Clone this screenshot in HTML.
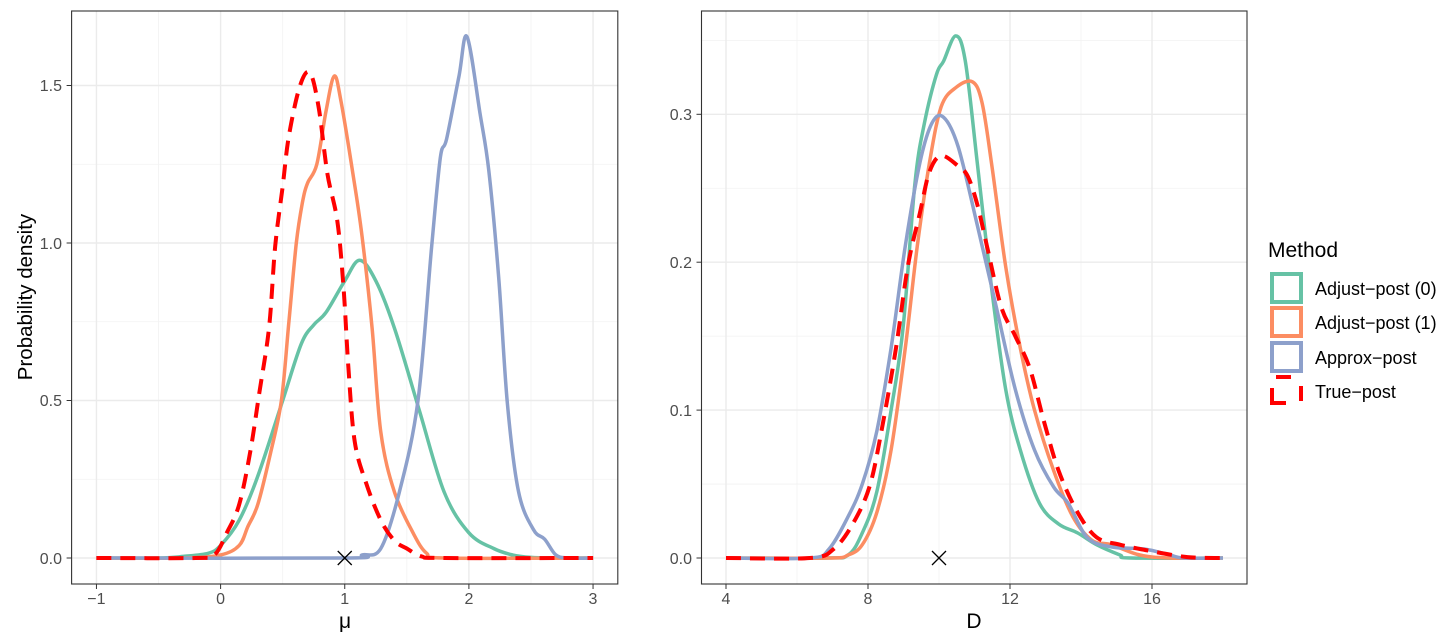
<!DOCTYPE html>
<html><head><meta charset="utf-8"><style>
html,body{margin:0;padding:0;background:#fff;}
svg{display:block;font-family:"Liberation Sans",Arial,sans-serif;}
</style></head><body>
<svg id="s" width="1440" height="642" viewBox="0 0 1440 642" xmlns="http://www.w3.org/2000/svg">
<rect width="1440" height="642" fill="#fff"/>
<g id="g"></g>
<g font-size="16" fill="#4d4d4d" text-anchor="end">
<text x="62" y="564">0.0</text><text x="62" y="406">0.5</text><text x="62" y="249">1.0</text><text x="62" y="91">1.5</text>
</g>
<g font-size="16" fill="#4d4d4d" text-anchor="middle">
<text x="96.4" y="604">−1</text><text x="220.6" y="604">0</text><text x="344.7" y="604">1</text><text x="468.9" y="604">2</text><text x="593" y="604">3</text>
</g>
<g font-size="16" fill="#4d4d4d" text-anchor="end">
<text x="692" y="564">0.0</text><text x="692" y="416">0.1</text><text x="692" y="268">0.2</text><text x="692" y="120">0.3</text>
</g>
<g font-size="16" fill="#4d4d4d" text-anchor="middle">
<text x="726" y="604">4</text><text x="868" y="604">8</text><text x="1010" y="604">12</text><text x="1152" y="604">16</text>
</g>
<text x="345" y="628" font-size="21" text-anchor="middle">μ</text>
<text x="974" y="628" font-size="21" text-anchor="middle">D</text>
<text transform="translate(32,297) rotate(-90)" font-size="20.5" text-anchor="middle">Probability density</text>
<text x="1268" y="257" font-size="21">Method</text>
<rect x="1272" y="274" width="29" height="28" fill="none" stroke="#66c2a5" stroke-width="4"/>
<rect x="1272" y="308" width="29" height="28" fill="none" stroke="#fc8d62" stroke-width="4"/>
<rect x="1272" y="343" width="29" height="28" fill="none" stroke="#8da0cb" stroke-width="4"/>
<g stroke="#ff0000" stroke-width="4" fill="none">
<line x1="1276" y1="377" x2="1291" y2="377"/>
<line x1="1272" y1="388" x2="1272" y2="405"/>
<line x1="1270" y1="403" x2="1286" y2="403"/>
<line x1="1301" y1="386" x2="1301" y2="401"/>
</g>
<g font-size="18" fill="#000">
<text x="1315" y="295">Adjust−post (0)</text>
<text x="1315" y="329">Adjust−post (1)</text>
<text x="1315" y="364">Approx−post</text>
<text x="1315" y="398">True−post</text>
</g>
</svg>
<script>
const g=document.getElementById('g');
function el(t,a){const e=document.createElementNS('http://www.w3.org/2000/svg',t);for(const k in a)e.setAttribute(k,a[k]);g.appendChild(e);return e;}
function path(pts){let d='M'+pts[0][0].toFixed(1)+','+pts[0][1].toFixed(1);
for(let i=0;i<pts.length-1;i++){const p0=pts[Math.max(0,i-1)],p1=pts[i],p2=pts[i+1],p3=pts[Math.min(pts.length-1,i+2)];
const c1=[p1[0]+(p2[0]-p0[0])/6,p1[1]+(p2[1]-p0[1])/6],c2=[p2[0]-(p3[0]-p1[0])/6,p2[1]-(p3[1]-p1[1])/6];
d+='C'+c1.map(v=>v.toFixed(1)).join(',')+' '+c2.map(v=>v.toFixed(1)).join(',')+' '+p2[0].toFixed(1)+','+p2[1].toFixed(1);}return d;}
function panel(x0,x1,y0,y1,fx,fy,vmaj,vmin,hmaj,hmin,series,mark){
 el('rect',{x:x0,y:y0,width:x1-x0,height:y1-y0,fill:'#fff'});
 vmin.forEach(v=>el('line',{x1:fx(v),x2:fx(v),y1:y0,y2:y1,stroke:'#f2f2f2','stroke-width':0.8}));
 hmin.forEach(v=>el('line',{y1:fy(v),y2:fy(v),x1:x0,x2:x1,stroke:'#f2f2f2','stroke-width':0.8}));
 vmaj.forEach(v=>{el('line',{x1:fx(v),x2:fx(v),y1:y0,y2:y1,stroke:'#ebebeb','stroke-width':1.4});el('line',{x1:fx(v),x2:fx(v),y1:y1,y2:y1+5,stroke:'#333','stroke-width':1});});
 hmaj.forEach(v=>{el('line',{y1:fy(v),y2:fy(v),x1:x0,x2:x1,stroke:'#ebebeb','stroke-width':1.4});el('line',{y1:fy(v),y2:fy(v),x1:x0-5,x2:x0,stroke:'#333','stroke-width':1});});
 series.forEach(s=>{const pts=s.d.map(p=>[fx(p[0]),fy(p[1])]);const a={d:path(pts),fill:'none',stroke:s.c,'stroke-width':s.w,'stroke-linejoin':'round'};if(s.dash)a['stroke-dasharray']=s.dash;el('path',a);});
 const mx=fx(mark),my=fy(0);
 el('path',{d:`M${mx-7},${my-7}L${mx+7},${my+7}M${mx-7},${my+7}L${mx+7},${my-7}`,stroke:'#000','stroke-width':1.3});
 el('rect',{x:x0,y:y0,width:x1-x0,height:y1-y0,fill:'none',stroke:'#333','stroke-width':1.1});
}
const L={fx:x=>220.6+x*124.15,fy:y=>558-y*315};
const green1=[[-1,0],[-0.5,0],[-0.3,0.005],[-0.1,0.015],[0,0.04],[0.15,0.12],[0.3,0.26],[0.5,0.5],[0.65,0.68],[0.75,0.74],[0.85,0.78],[1.0,0.88],[1.12,0.945],[1.25,0.88],[1.4,0.73],[1.6,0.47],[1.8,0.21],[2.0,0.08],[2.2,0.03],[2.35,0.01],[2.5,0.002],[2.7,0],[3,0]];
const orange1=[[-1,0],[-0.3,0],[0,0.01],[0.15,0.04],[0.22,0.1],[0.3,0.17],[0.4,0.33],[0.49,0.5],[0.55,0.75],[0.61,1.0],[0.66,1.13],[0.7,1.19],[0.775,1.25],[0.85,1.42],[0.915,1.53],[0.97,1.45],[1.07,1.21],[1.14,1.02],[1.22,0.73],[1.29,0.40],[1.4,0.21],[1.55,0.08],[1.66,0.015],[1.8,0],[3,0]];
const blue1=[[-1,0],[1.0,0],[1.14,0.01],[1.29,0.03],[1.44,0.21],[1.59,0.5],[1.70,0.99],[1.77,1.27],[1.82,1.33],[1.92,1.53],[1.985,1.655],[2.09,1.41],[2.16,1.23],[2.24,0.89],[2.31,0.49],[2.40,0.21],[2.52,0.09],[2.61,0.06],[2.7,0.01],[2.8,0],[3,0]];
const red1=[[-1,0],[-0.2,0],[-0.05,0.01],[0.05,0.08],[0.15,0.17],[0.24,0.34],[0.31,0.52],[0.39,0.73],[0.44,0.99],[0.5,1.18],[0.55,1.34],[0.64,1.50],[0.72,1.54],[0.79,1.43],[0.86,1.22],[0.94,1.07],[0.99,0.86],[1.03,0.60],[1.08,0.37],[1.17,0.24],[1.29,0.12],[1.40,0.055],[1.5,0.03],[1.62,0.005],[1.8,0],[3,0]];
panel(71.6,617.8,11,584,L.fx,L.fy,[-1,0,1,2,3],[-0.5,0.5,1.5,2.5],[0,0.5,1,1.5],[0.25,0.75,1.25],
[{d:green1,c:'#66c2a5',w:3.5},{d:orange1,c:'#fc8d62',w:3.5},{d:blue1,c:'#8da0cb',w:3.5},{d:red1,c:'#ff0000',w:4,dash:'15 9'}],1);
const R={fx:x=>726+(x-4)*35.5,fy:y=>558-y*1479};
const green2=[[4,0],[6.8,0],[7.44,0.002],[7.84,0.017],[8.25,0.045],[8.65,0.10],[8.99,0.156],[9.32,0.253],[9.59,0.294],[9.93,0.327],[10.13,0.336],[10.47,0.353],[10.74,0.336],[11.08,0.267],[11.48,0.183],[11.88,0.114],[12.29,0.073],[12.83,0.037],[13.37,0.023],[13.9,0.017],[14.44,0.009],[15.1,0.002],[15.4,0],[18,0]];
const orange2=[[4,0],[6.9,0],[7.44,0.002],[7.84,0.009],[8.25,0.031],[8.65,0.073],[9.05,0.142],[9.39,0.211],[9.73,0.267],[10.06,0.305],[10.47,0.318],[10.94,0.322],[11.21,0.308],[11.48,0.267],[11.88,0.197],[12.29,0.142],[12.69,0.10],[13.23,0.059],[13.77,0.028],[14.31,0.012],[14.85,0.009],[15.66,0.002],[16.5,0],[18,0]];
const blue2=[[4,0],[6.36,0],[6.9,0.006],[7.44,0.028],[7.84,0.05],[8.25,0.086],[8.65,0.142],[9.05,0.211],[9.46,0.267],[9.8,0.294],[10.13,0.298],[10.54,0.278],[11.08,0.225],[11.61,0.17],[12.15,0.114],[12.69,0.073],[13.23,0.048],[13.64,0.037],[14.17,0.014],[14.85,0.0075],[15.8,0.006],[16.5,0.002],[16.9,0],[18,0]];
const red2=[[4,0],[6.36,0],[7.03,0.006],[7.57,0.023],[8.04,0.048],[8.38,0.086],[8.79,0.142],[9.12,0.197],[9.46,0.233],[9.73,0.261],[10.06,0.272],[10.54,0.265],[10.81,0.258],[11.08,0.239],[11.35,0.211],[11.75,0.17],[12.15,0.15],[12.56,0.128],[12.96,0.092],[13.37,0.059],[13.9,0.031],[14.44,0.014],[15.1,0.009],[15.9,0.005],[17.0,0.0006],[18,0]];
panel(701.5,1247,11,584,R.fx,R.fy,[4,8,12,16],[6,10,14],[0,0.1,0.2,0.3],[0.05,0.15,0.25,0.35],
[{d:green2,c:'#66c2a5',w:3.5},{d:orange2,c:'#fc8d62',w:3.5},{d:blue2,c:'#8da0cb',w:3.5},{d:red2,c:'#ff0000',w:4,dash:'15 9'}],10);
</script>
</body></html>
